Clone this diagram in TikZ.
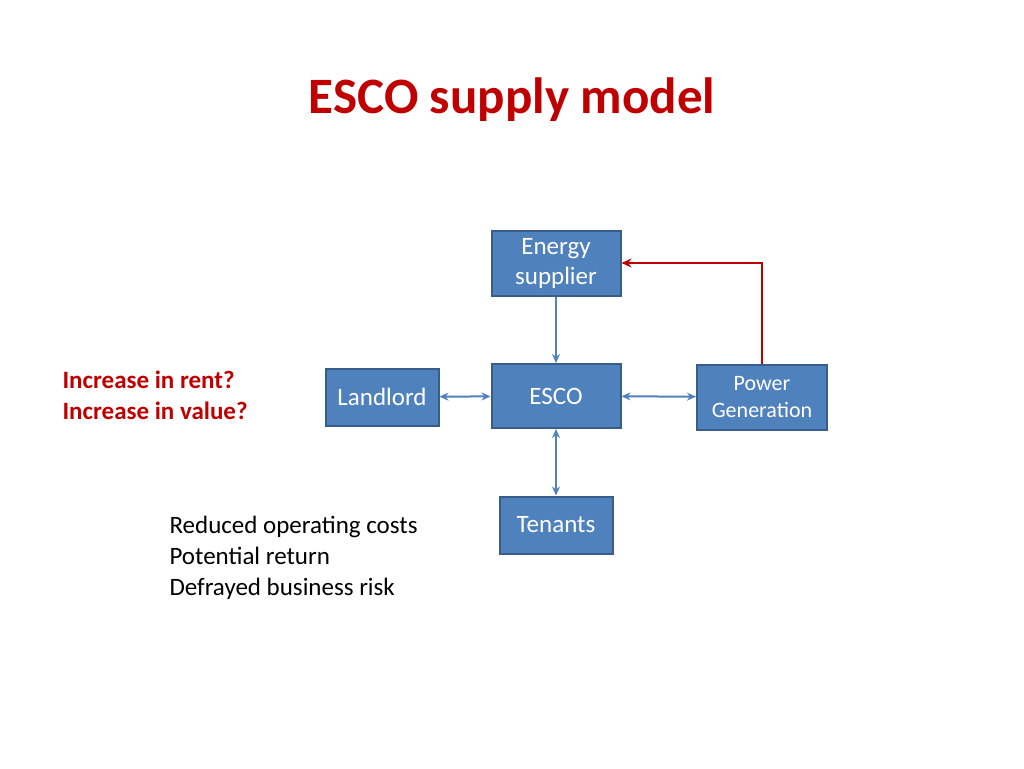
\documentclass[tikz,border=0pt]{standalone}
\usepackage{fontspec}
\setmainfont{Carlito}
\usetikzlibrary{arrows.meta}
\definecolor{boxfill}{HTML}{4F81BD}
\definecolor{boxline}{HTML}{385D8A}
\definecolor{myred}{HTML}{C00000}
\begin{document}
\begin{tikzpicture}[x=1pt,y=-1pt,
  box/.style={draw=boxline,line width=2pt,fill=boxfill,text=white,align=center,inner sep=0pt,font=\fontsize{25}{30}\selectfont},
  conn/.style={draw=boxfill,line width=2pt,{Stealth[length=9pt,width=8pt]}-{Stealth[length=9pt,width=8pt]}},
  txt/.style={anchor=west,align=left,font=\fontsize{25}{31}\selectfont}]
\useasboundingbox (0,0) rectangle (1024,768);
\node[font=\fontsize{51}{60}\selectfont\bfseries,text=myred] (title) at (512,100) {ESCO supply model};
\node[box,minimum width=129pt,minimum height=65pt] (es) at (556,263) {Energy\\supplier};
\node[box,minimum width=113pt,minimum height=57pt] (ll) at (382,397) {Landlord};
\node[box,minimum width=129pt,minimum height=64pt] (esco) at (556,396) {ESCO};
\node[box,minimum width=130pt,minimum height=65pt,font=\fontsize{22}{27}\selectfont] (pg) at (762,397) {Power\\Generation};
\node[box,minimum width=113pt,minimum height=57pt] (ten) at (556,525) {Tenants};
\draw[draw=boxfill,line width=2pt,-{Stealth[length=9pt,width=8pt]}] (es) -- (esco);
\draw[conn] (ll) -- (esco);
\draw[conn] (esco) -- (pg);
\draw[conn] (esco) -- (ten);
\draw[draw=myred,line width=2.5pt,-{Stealth[length=10pt,width=9pt]}] (pg.north) |- (es.east);
\node[txt,text=myred,font=\fontsize{25}{31}\selectfont\bfseries] (q) at (59,395) {Increase in rent?\\Increase in value?};
\node[txt] (b) at (166,558) {Reduced operating costs\\Potential return\\Defrayed business risk};
\end{tikzpicture}
\end{document}
